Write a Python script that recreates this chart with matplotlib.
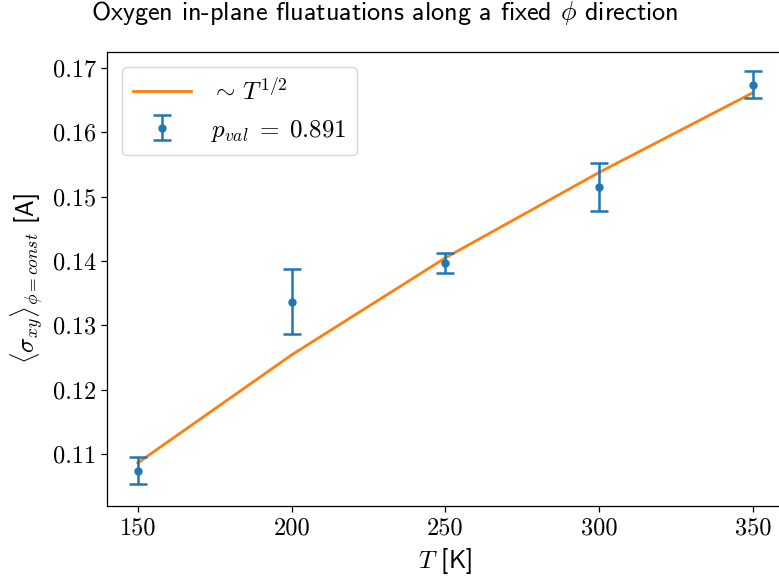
import numpy as np
import matplotlib
matplotlib.use('Agg')
import matplotlib.pyplot as plt

# Data
temps = [150, 200, 250, 300, 350]
sigma = [0.1074, 0.1337, 0.1397, 0.1515, 0.1674]
sigma_err = [0.0021, 0.0051, 0.0015, 0.0037, 0.0021]
fit_vals = [0.1086, 0.1254, 0.1405, 0.1538, 0.1662]
x_ticks = [150, 200, 250, 300, 350]
y_ticks = [0.11, 0.12, 0.13, 0.14, 0.15, 0.16, 0.17]

plt.rcParams['mathtext.fontset'] = 'cm'
plt.rcParams['font.family'] = ['cmss10', 'DejaVu Sans']
plt.rcParams['axes.linewidth'] = 0.9

fig = plt.figure(figsize=(7.79, 5.84), dpi=100)
ax = fig.add_axes([107 / 779, 1 - 506 / 584, (784 - 107) / 779, (506 - 52) / 584])

ax.plot(temps, fit_vals, color='#ff7f0e', lw=2.0, label=r'${\sim}\,T^{1/2}$')
ax.errorbar(temps, sigma, yerr=sigma_err, fmt='o', ms=5, color='#1f77b4',
            elinewidth=1.8, capsize=6.5, capthick=1.8, label=r'$p_{val}\;=\;0.891$')

ax.set_xlim(140, 360)
ax.set_ylim(0.1019, 0.1725)
ax.set_xticks(x_ticks)
ax.set_yticks(y_ticks)
ax.set_xticklabels([str(t) for t in x_ticks], fontfamily='cmr10', fontsize=17.5)
ax.set_yticklabels(['%.2f' % t for t in y_ticks], fontfamily='cmr10', fontsize=17.5)
ax.tick_params(length=4.5, width=0.9)

ax.set_xlabel(r'$T$ [K]', fontsize=18, labelpad=5)
ax.set_ylabel(r'$\langle\sigma_{xy}\rangle_{\phi=const}$ [A]', fontsize=18, labelpad=5)
fig.text(385 / 779, 1 - 20 / 584, r'Oxygen in-plane fluatuations along a fixed $\phi$ direction',
         ha='center', va='baseline', fontsize=18.8)

ax.legend(loc='upper left', fontsize=18, borderaxespad=0.6, framealpha=0.8,
          handlelength=2.3, handletextpad=0.8, borderpad=0.45)

fig.savefig('out.png', dpi=100)
